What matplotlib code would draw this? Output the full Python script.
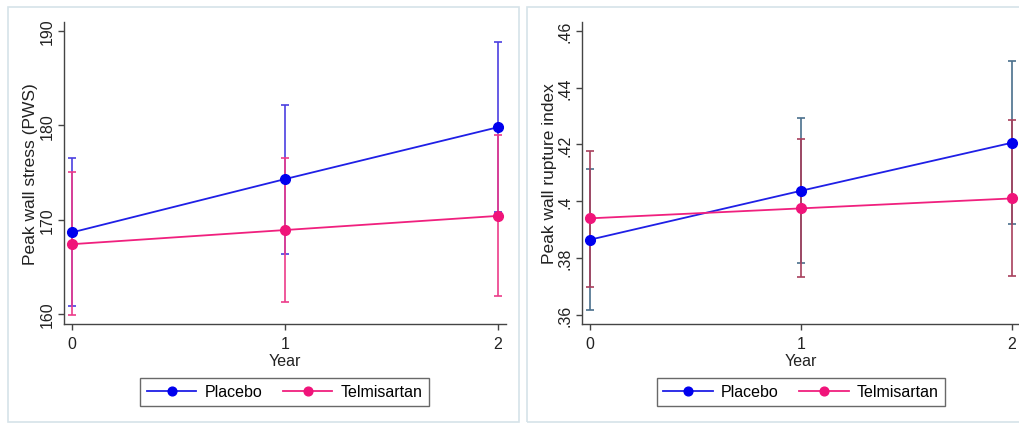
import matplotlib
matplotlib.use("Agg")
import matplotlib.pyplot as plt
from matplotlib.patches import Rectangle
import numpy as np

plt.rcParams["font.family"] = ["Liberation Sans", "DejaVu Sans"]

# data
years = [0, 1, 2]
groups = ["Placebo", "Telmisartan"]

# left panel: peak wall stress
pws_placebo = [168.65, 174.3, 179.8]
pws_placebo_lo = [160.8, 166.35, 170.8]
pws_placebo_hi = [176.5, 182.15, 188.8]
pws_telmi = [167.4, 168.9, 170.4]
pws_telmi_lo = [159.9, 161.3, 161.9]
pws_telmi_hi = [175.0, 176.5, 179.0]
pws_ticks = [160, 170, 180, 190]

# right panel: peak wall rupture index
pwri_placebo = [0.3865, 0.4037, 0.4206]
pwri_placebo_lo = [0.3618, 0.3783, 0.3919]
pwri_placebo_hi = [0.4113, 0.4292, 0.4493]
pwri_telmi = [0.394, 0.3975, 0.401]
pwri_telmi_lo = [0.370, 0.3735, 0.3738]
pwri_telmi_hi = [0.4178, 0.4218, 0.4285]
pwri_ticks = [0.36, 0.38, 0.40, 0.42, 0.44, 0.46]
pwri_ticklabels = [".36", ".38", ".4", ".42", ".44", ".46"]

W, H = 1020, 427
fig = plt.figure(figsize=(W / 100, H / 100), dpi=100)


def px_box(x0, y0, x1, y1):
    # pixel box (top-left origin) -> figure fraction [l, b, w, h]
    return [x0 / W, 1 - y1 / H, (x1 - x0) / W, (y1 - y0) / H]


# light panel frames
for fx0, fx1 in [(8, 519), (527, 1030)]:
    l, b, w, h = px_box(fx0, 8, fx1, 423)
    fig.patches.append(Rectangle((l, b), w, h, transform=fig.transFigure,
                                 fill=False, edgecolor="#d6e3e9", lw=1.2))

LINE_BLUE = "#1f1fe6"
LINE_PINK = "#f0207e"


def panel(box, ylim, ticks, ticklabels, ylabel, label_x, data, bar_cols, legend_x):
    ax = fig.add_axes(px_box(*box))
    (p, plo, phi), (t, tlo, thi) = data
    p, plo, phi, t, tlo, thi = map(np.array, (p, plo, phi, t, tlo, thi))
    ax.errorbar(years, p, yerr=[p - plo, phi - p], fmt="none",
                ecolor=bar_cols[0], elinewidth=1.2, capsize=3, capthick=1.2, zorder=2)
    ax.errorbar(years, t, yerr=[t - tlo, thi - t], fmt="none",
                ecolor=bar_cols[1], elinewidth=1.2, capsize=3, capthick=1.2, zorder=2)
    lp, = ax.plot(years, p, color=LINE_BLUE, lw=1.3, marker="o", ms=7,
                  mfc="#0000ee", mec="#0000ee", zorder=3)
    lt, = ax.plot(years, t, color=LINE_PINK, lw=1.3, marker="o", ms=7,
                  mfc="#f0147a", mec="#f0147a", zorder=3)

    ax.set_xlim(-0.0376, 2.0376)
    ax.set_ylim(*ylim)
    ax.set_xticks(years)
    ax.set_xticklabels([str(y) for y in years])
    ax.set_yticks(ticks)
    ax.set_yticklabels(ticklabels)
    for s in ["top", "right"]:
        ax.spines[s].set_visible(False)
    for s in ["left", "bottom"]:
        ax.spines[s].set_color("#444444")
        ax.spines[s].set_linewidth(1.0)
    ax.tick_params(axis="both", length=4, width=1.0, color="#444444",
                   labelsize=11.5, labelcolor="#222222")
    ax.tick_params(axis="y", labelrotation=90, pad=3)
    ax.tick_params(axis="x", pad=5)
    for lab in ax.get_yticklabels():
        lab.set_va("center")

    fig.text(label_x / W, 1 - 174 / H, ylabel, rotation=90, ha="center",
             va="center", fontsize=12.5, color="#222222")
    fig.text((box[0] + 8 + (box[2] - box[0] - 16) / 2) / W, 1 - 362 / H, "Year",
             ha="center", va="center", fontsize=11.5, color="#222222")

    leg = fig.legend(handles=[lp, lt], labels=groups, ncol=2,
                     loc="center", bbox_to_anchor=(legend_x / W, 1 - 393 / H),
                     fontsize=11.5, frameon=True, fancybox=False,
                     handlelength=3.1, columnspacing=1.3, handletextpad=0.5,
                     borderpad=0.4, markerscale=0.9)
    leg.get_frame().set_edgecolor("#444444")
    leg.get_frame().set_linewidth(1.0)
    return ax


panel((64, 23.3, 506, 325), (158.94, 190.92), pws_ticks,
      [str(v) for v in pws_ticks], "Peak wall stress (PWS)", 31,
      [(pws_placebo, pws_placebo_lo, pws_placebo_hi),
       (pws_telmi, pws_telmi_lo, pws_telmi_hi)],
      ["#4b3fe0", "#ec3c8a"], 284.5)

panel((582.3, 23.3, 1020, 325), (0.35683, 0.46295), pwri_ticks,
      pwri_ticklabels, "Peak wall rupture index", 550,
      [(pwri_placebo, pwri_placebo_lo, pwri_placebo_hi),
       (pwri_telmi, pwri_telmi_lo, pwri_telmi_hi)],
      ["#4a6f8c", "#a8405c"], 801)

fig.savefig("out.png", dpi=100, facecolor="white")
